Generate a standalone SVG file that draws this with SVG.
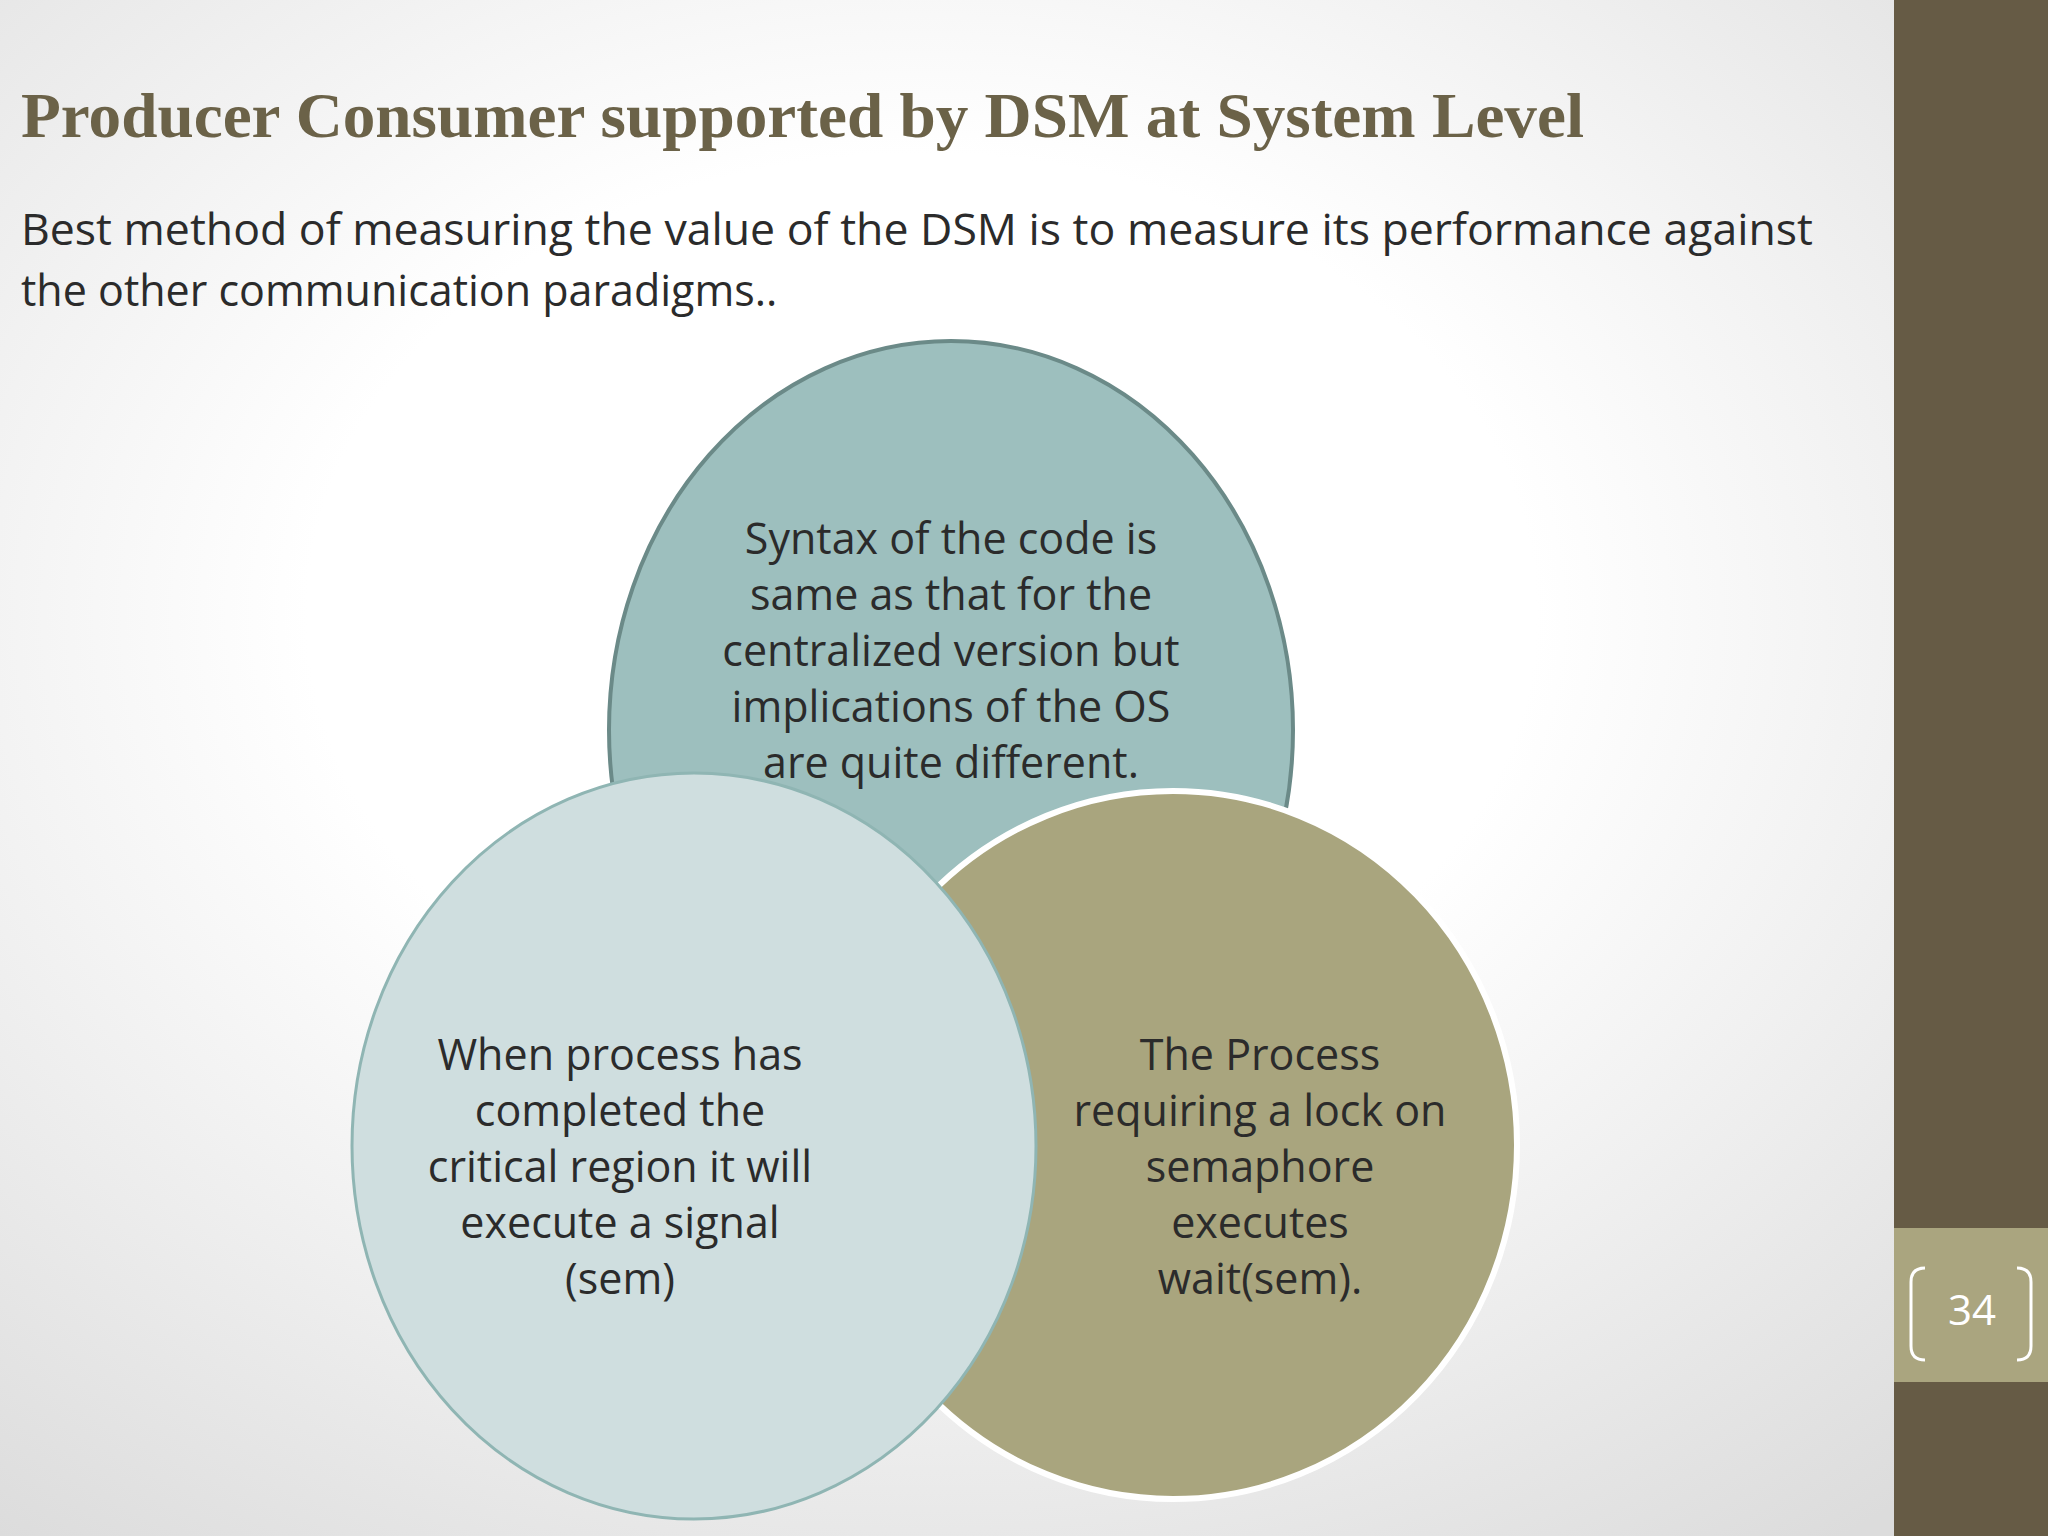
<svg xmlns="http://www.w3.org/2000/svg" width="2048" height="1536" viewBox="0 0 2048 1536">
<defs>
<radialGradient id="bg" cx="0.45" cy="0.4" r="0.75"><stop offset="0.4" stop-color="#ffffff"/><stop offset="1" stop-color="#dcdcdc"/></radialGradient>
<style>
.t{font-family:"Open Sans","Liberation Sans",sans-serif;font-size:43px;fill:#2b2b2b;text-anchor:middle}
.b{font-family:"Open Sans","Liberation Sans",sans-serif;font-size:43px;fill:#2b2b2b}
</style>
</defs>
<rect width="2048" height="1536" fill="url(#bg)"/>
<rect x="1894" y="0" width="154" height="1536" fill="#665b45"/>
<rect x="1894" y="1228" width="154" height="154" fill="#aaa57f"/>
<path d="M1925 1268 q-14 0 -14 14 v64 q0 14 14 14" fill="none" stroke="#fff" stroke-width="3"/>
<path d="M2017 1268 q14 0 14 14 v64 q0 14 -14 14" fill="none" stroke="#fff" stroke-width="3"/>
<text x="1972" y="1325" font-family="Open Sans,Liberation Sans,sans-serif" font-size="42" fill="#fff" text-anchor="middle">34</text>
<text x="21" y="137" font-family="Liberation Serif,serif" font-weight="bold" font-size="64" fill="#6b6248" textLength="1563" lengthAdjust="spacingAndGlyphs">Producer Consumer supported by DSM at System Level</text>
<text class="b" x="21" y="245" textLength="1792" lengthAdjust="spacingAndGlyphs">Best method of measuring the value of the DSM is to measure its performance against</text>
<text class="b" x="21" y="306">the other communication paradigms..</text>
<g id="top"><ellipse cx="951" cy="730" rx="342" ry="389" fill="#9dbfbe" stroke="#6b8a88" stroke-width="4"/>
<text class="t"><tspan x="951" y="554">Syntax of the code is</tspan><tspan x="951" y="610">same as that for the</tspan><tspan x="951" y="666">centralized version but</tspan><tspan x="951" y="722">implications of the OS</tspan><tspan x="951" y="778">are quite different.</tspan></text></g>
<g id="right"><ellipse cx="1173" cy="1145" rx="344" ry="354" fill="#a9a57e" stroke="#fff" stroke-width="6"/>
<text class="t"><tspan x="1260" y="1070">The Process</tspan><tspan x="1260" y="1126">requiring a lock on</tspan><tspan x="1260" y="1182">semaphore</tspan><tspan x="1260" y="1238">executes</tspan><tspan x="1260" y="1294">wait(sem).</tspan></text></g>
<g id="left"><ellipse cx="694" cy="1146" rx="342" ry="373" fill="#cfdedf" stroke="#8fb5b3" stroke-width="3"/>
<text class="t"><tspan x="620" y="1070">When process has</tspan><tspan x="620" y="1126">completed the</tspan><tspan x="620" y="1182">critical region it will</tspan><tspan x="620" y="1238">execute a signal</tspan><tspan x="620" y="1294">(sem)</tspan></text></g>
<g id="connectors"/>
</svg>
